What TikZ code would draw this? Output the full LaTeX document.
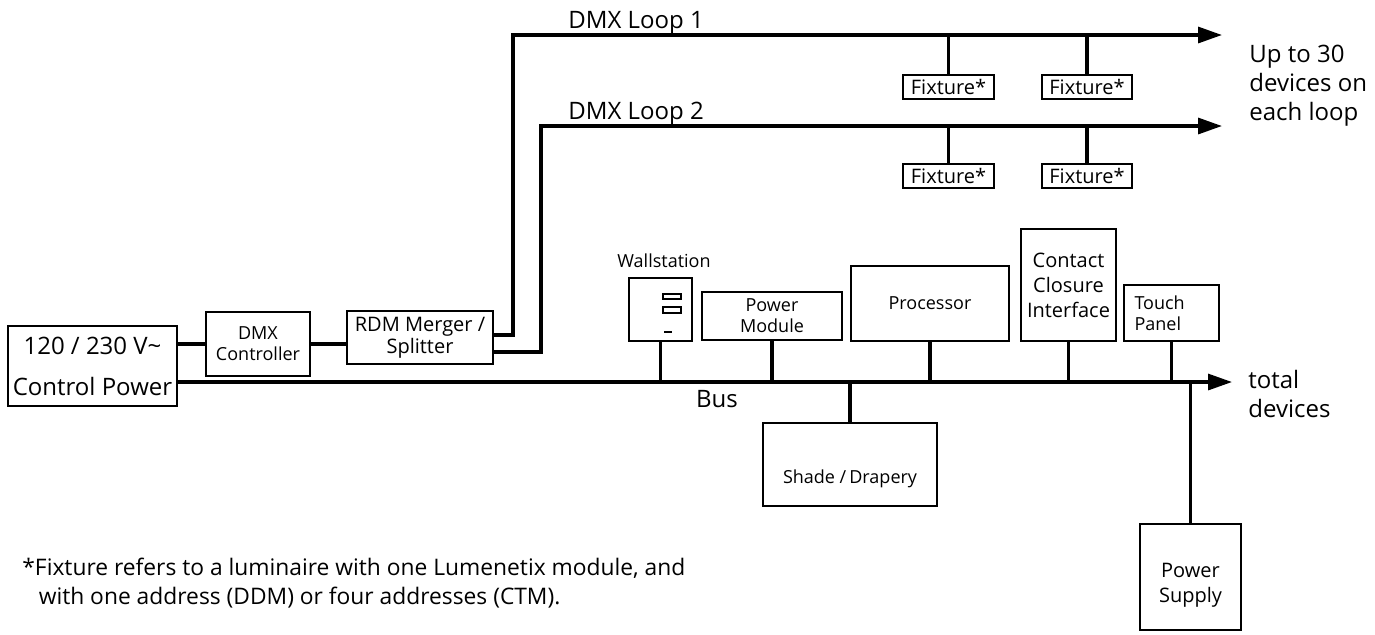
\documentclass[tikz,border=0pt]{standalone}
\usepackage{fontspec}
\setmainfont{Open Sans}
\usetikzlibrary{arrows.meta}

\begin{document}
\begin{tikzpicture}[x=0.5pt, y=-0.5pt,
  box/.style={draw, line width=0.9pt, inner sep=0pt, align=center},
  wire/.style={line width=1.6pt},
  feed/.style={wire, -{Triangle[length=12pt, width=8pt]}},
  big/.style={font=\fontsize{12}{14.5}\selectfont},
  mid/.style={font=\fontsize{10}{12.5}\selectfont},
  small/.style={font=\fontsize{9}{10.5}\selectfont}]
\useasboundingbox (0,0) rectangle (1375,634);
% ---- left: supply, controller, merger ----
\node[box, minimum width=84.5pt, minimum height=40pt, font=\fontsize{12}{20.5}\selectfont] (ctrl) at (92.5,366) {120 / 230 V\textasciitilde\\Control Power};
\node[box, small, minimum width=52pt, minimum height=32pt] (dmx) at (258,344) {DMX\\Controller};
\node[box, mid, minimum width=73pt, minimum height=26.5pt, font=\fontsize{10}{11}\selectfont] (rdm) at (420,337.5) {RDM Merger /\\Splitter};
\draw[wire] (dmx.west -| ctrl.east) -- (dmx.west);
\draw[wire] (dmx.east) -- (dmx.east -| rdm.west);
% ---- DMX loops ----
\coordinate (l1b) at (513,335);
\coordinate (l1t) at (513,35);
\coordinate (l1e) at (1222,35);
\coordinate (l2b) at (541,352);
\coordinate (l2t) at (541,126);
\coordinate (l2e) at (1222,126);
\draw[feed] (l1b -| rdm.east) -- (l1b) -- (l1t) -- (l1e);
\draw[feed] (l2b -| rdm.east) -- (l2b) -- (l2t) -- (l2e);
\node[big, anchor=base west, inner sep=0pt] (loop1) at (568,28) {DMX Loop 1};
\node[big, anchor=base west, inner sep=0pt] (loop2) at (568,119) {DMX Loop 2};
% fixtures
\node[box, mid, minimum width=45.5pt, minimum height=12pt] (f1a) at (948.5,87) {Fixture*};
\node[box, mid, minimum width=45pt, minimum height=12pt] (f1b) at (1087,87) {Fixture*};
\node[box, mid, minimum width=45.5pt, minimum height=12pt] (f2a) at (948.5,176) {Fixture*};
\node[box, mid, minimum width=45pt, minimum height=12pt] (f2b) at (1087,176) {Fixture*};
\foreach \f in {f1a,f1b} \draw[wire] (\f.north) -- (\f.north |- l1e);
\foreach \f in {f2a,f2b} \draw[wire] (\f.north) -- (\f.north |- l2e);
\node[big, anchor=north west, align=left, inner sep=0pt] (upto) at (1249,45) {Up to 30\\devices on\\each loop};
% ---- bus ----
\coordinate (busend) at (1232,382);
\draw[feed] (busend -| ctrl.east) -- (busend);
\node[big, inner sep=0pt] (buslbl) at (717,399) {Bus};
\node[big, anchor=north west, align=left, inner sep=0pt] (total) at (1248,370) {total\\devices};
% devices on the bus
\node[box, minimum width=31.5pt, minimum height=31.5pt] (wall) at (660.5,309.5) {};
\node[small, inner sep=0pt] (walllbl) at (664,261) {Wallstation};
\draw[line width=0.6pt] (663,294) rectangle (681,299) (663,307) rectangle (681,313);
\draw[line width=1pt] (664,332) -- (672,332);
\node[box, small, minimum width=70pt, minimum height=24pt] (pm) at (772,316) {Power\\Module};
\node[box, small, minimum width=79pt, minimum height=37.5pt] (proc) at (930,303.5) {Processor};
\node[box, mid, minimum width=47.5pt, minimum height=56pt] (cci) at (1068.5,285) {Contact\\Closure\\Interface};
\node[box, small, minimum width=47.5pt, minimum height=28pt, text width=37pt, align=left] (tp) at (1171.5,313) {Touch\\Panel};
\node[box, minimum width=87pt, minimum height=41.5pt] (shade) at (850,464.5) {};
\node[small, inner sep=0pt] (shadelbl) at (850,479) {Shade /\,Drapery};
\node[box, minimum width=50.5pt, minimum height=53pt] (ps) at (1190.5,577) {};
\node[mid, align=center, inner sep=0pt] (pslbl) at (1190.5,585.5) {Power\\Supply};
\foreach \d in {wall,pm,proc,cci,tp} \draw[wire] (\d.south) -- (\d.south |- busend);
\foreach \d in {shade,ps} \draw[wire] (\d.north) -- (\d.north |- busend);
% ---- footnote ----
\node[anchor=north west, align=left, inner sep=0pt, font=\fontsize{11.4}{14.5}\selectfont] (note) at (22,558) {*Fixture refers to a luminaire with one Lumenetix module, and\\\phantom{*}\,with one address (DDM) or four addresses (CTM).};
\end{tikzpicture}
\end{document}
